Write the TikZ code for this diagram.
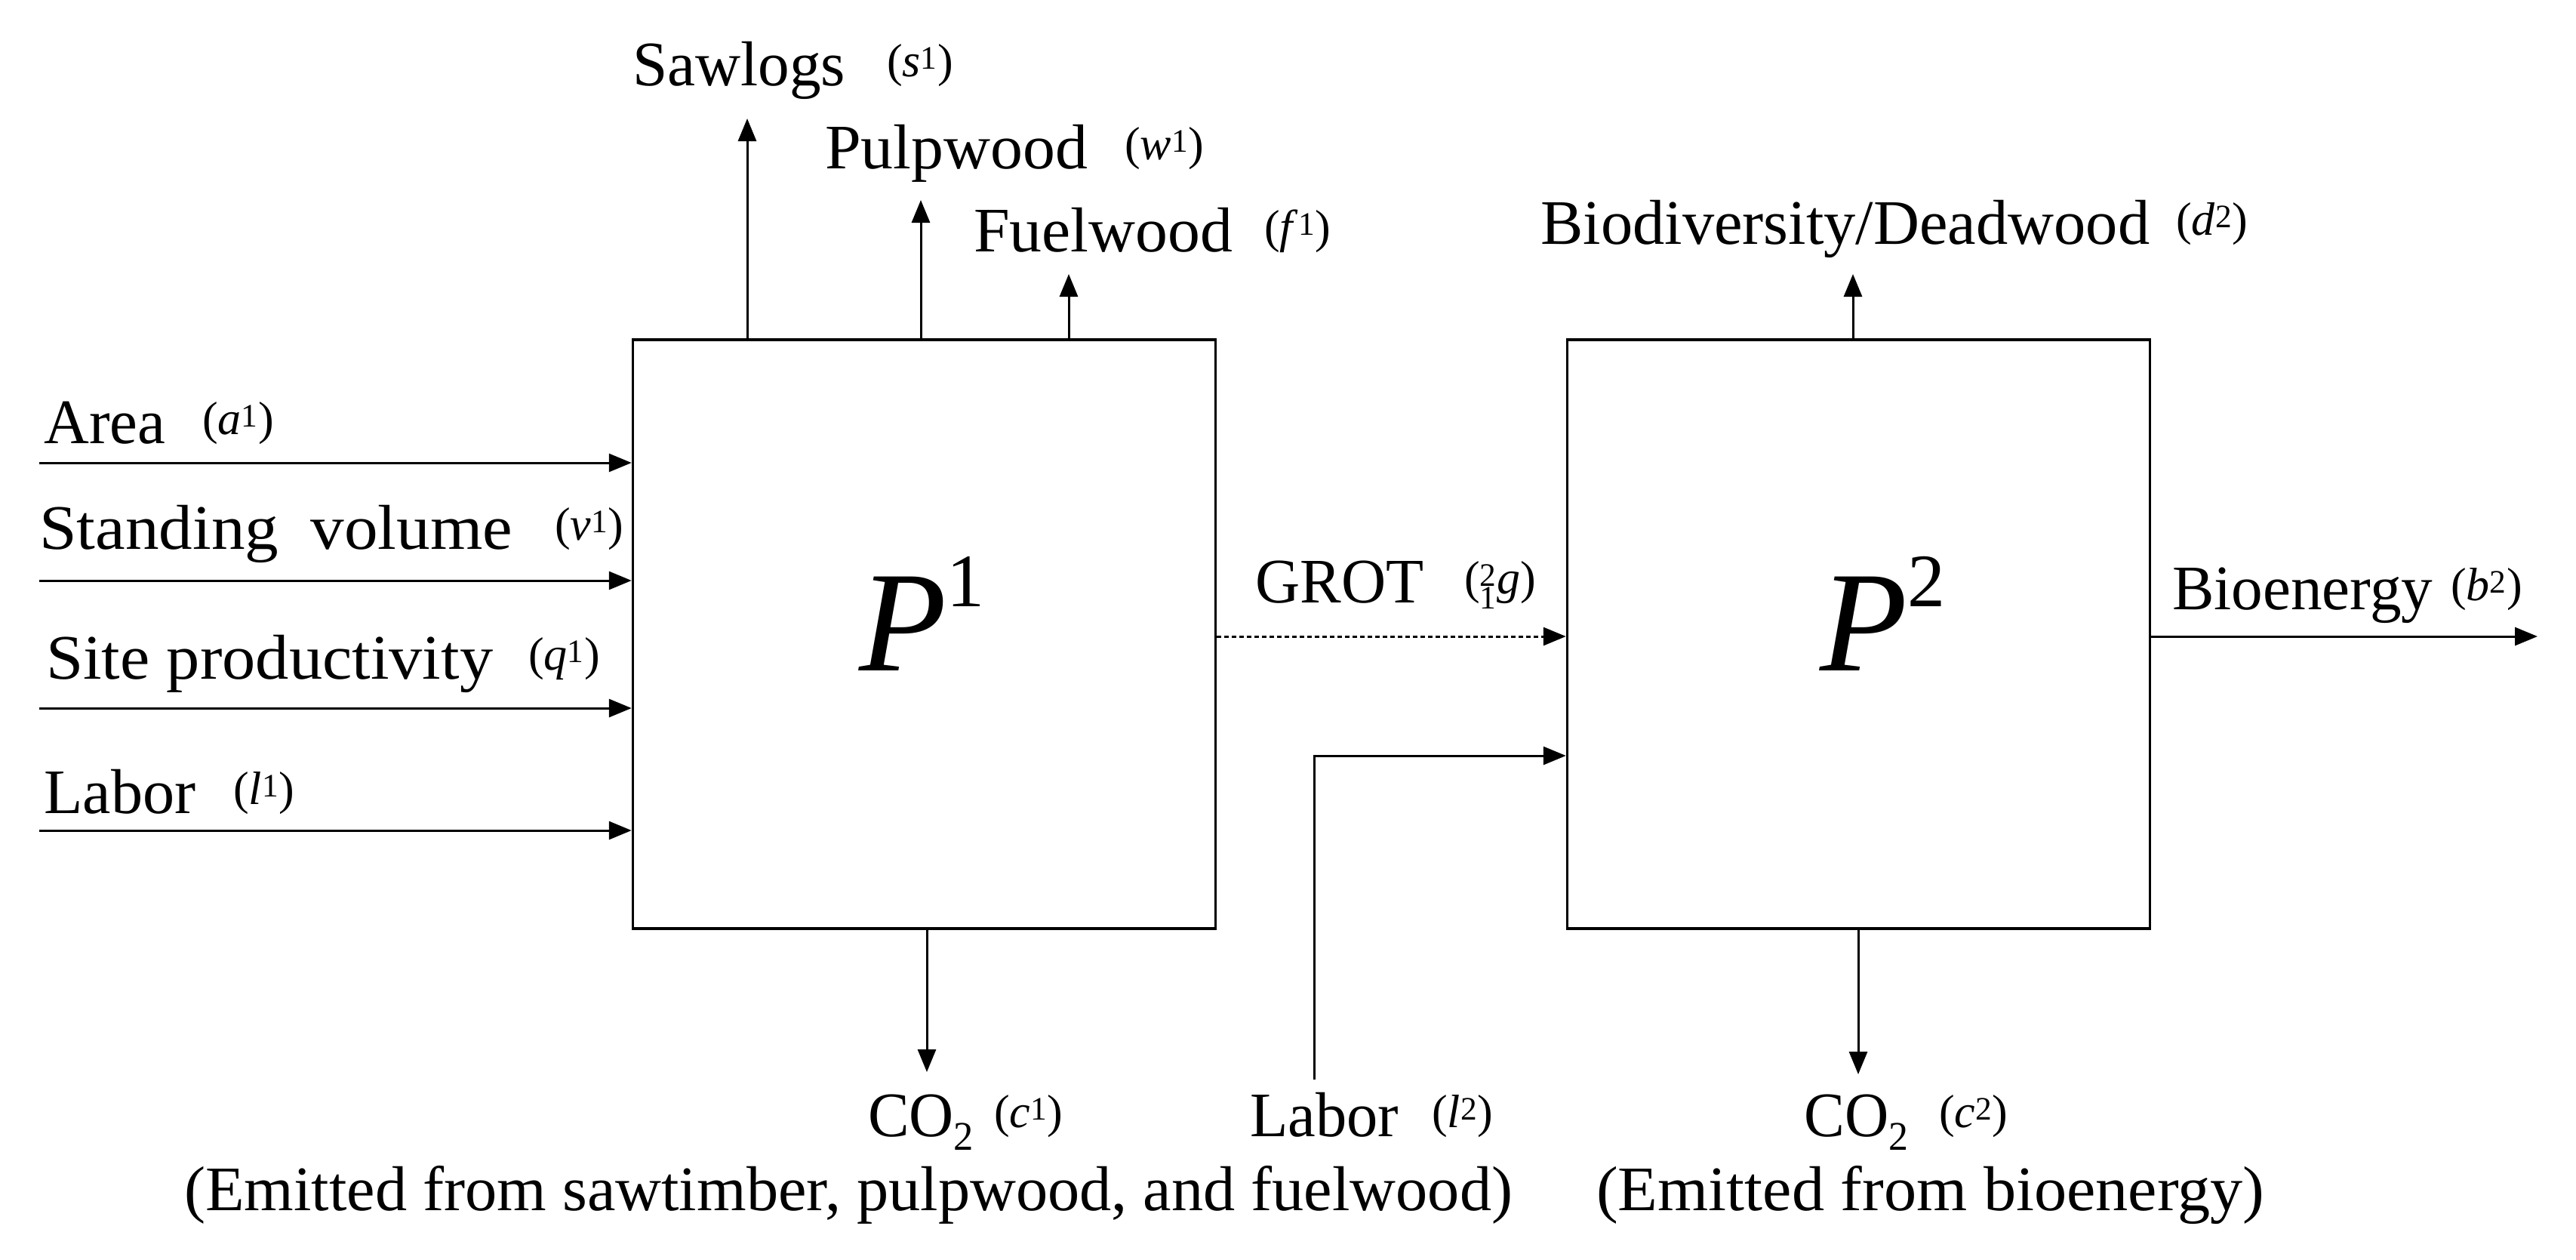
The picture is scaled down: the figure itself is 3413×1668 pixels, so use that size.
\documentclass[tikz,border=0pt]{standalone}
\usepackage{fontspec}
\usepackage{graphicx}
\setmainfont{Liberation Serif}
\usetikzlibrary{arrows.meta}
\newcommand\myvar[2]{{\fontsize{62}{70}\selectfont(\textit{#1}\textsuperscript{#2})}}
\newcommand\fitw[2]{\resizebox{#1pt}{\height}{#2}}
\newcommand\cotwo{CO\smash{\raisebox{-18pt}{\fontsize{54}{60}\selectfont 2}}}
\tikzset{
  lbl/.style={font=\fontsize{84}{100}\selectfont, inner sep=0pt, anchor=base west},
  varlbl/.style={inner sep=0pt, anchor=base west},
  biglbl/.style={inner sep=0pt, anchor=base west, font=\fontsize{190}{200}\selectfont},
  procbox/.style={draw, line width=3.5pt, minimum width=772pt, minimum height=780pt, inner sep=0pt},
  arr/.style={-{Triangle[length=30pt,width=24pt]}, line width=3pt},
  dasharr/.style={-{Triangle[length=30pt,width=24pt]}, line width=3pt, dash pattern=on 6pt off 4pt}
}
\begin{document}
\begin{tikzpicture}[x=1pt,y=-1pt]
\useasboundingbox (0,0) rectangle (3413,1668);
% boxes
\node[procbox] (P1) at (1224.5,840) {};
\node[procbox] (P2) at (2462.5,840) {};
\node[biglbl] (P1t) at (1138,888) {\textit{P}\raisebox{85pt}{\fontsize{100}{110}\selectfont 1}};
\node[biglbl] (P2t) at (2411,888) {\textit{P}\raisebox{85pt}{\fontsize{100}{110}\selectfont 2}};
% left inputs
\coordinate (ia) at (52,613);
\coordinate (iv) at (52,769);
\coordinate (iq) at (52,938);
\coordinate (il) at (52,1100);
\draw[arr] (ia) -- (ia -| P1.west);
\draw[arr] (iv) -- (iv -| P1.west);
\draw[arr] (iq) -- (iq -| P1.west);
\draw[arr] (il) -- (il -| P1.west);
\node[lbl] (tA) at (58,587) {\fitw{161}{Area}};
\node[varlbl] (vA) at (268,575) {\myvar{a}{1}};
\node[lbl] (tV) at (52,727) {\fitw{627}{Standing\hspace{40pt}volume}};
\node[varlbl] (vV) at (735,715) {\myvar{v}{1}};
\node[lbl] (tQ) at (61,899) {\fitw{592}{Site productivity}};
\node[varlbl] (vQ) at (700,887) {\myvar{q}{1}};
\node[lbl] (tL) at (58,1077) {\fitw{201}{Labor}};
\node[varlbl] (vL) at (309,1065) {\myvar{l}{1}};
% top outputs of P1
\coordinate (os) at (990,157);
\coordinate (ow) at (1220,265);
\coordinate (of) at (1416,363);
\draw[arr] (os |- P1.north) -- (os);
\draw[arr] (ow |- P1.north) -- (ow);
\draw[arr] (of |- P1.north) -- (of);
\node[lbl] (tS) at (838,113) {\fitw{282}{Sawlogs}};
\node[varlbl] (vS) at (1175,101) {\myvar{s}{1}};
\node[lbl] (tW) at (1093,223) {\fitw{348}{Pulpwood}};
\node[varlbl] (vW) at (1490,211) {\myvar{w}{1}};
\node[lbl] (tF) at (1290,333) {\fitw{343}{Fuelwood}};
\node[varlbl] (vF) at (1675,321) {\myvar{f}{1}};
% P2 top output
\coordinate (od) at (2455,363);
\draw[arr] (od |- P2.north) -- (od);
\node[lbl] (tD) at (2041,323) {\fitw{807}{Biodiversity/Deadwood}};
\node[varlbl] (vD) at (2883,311) {\myvar{d}{2}};
% GROT
\draw[dasharr] ([yshift=-3pt]P1.east) -- ([yshift=-3pt]P2.west);
\node[lbl] (tG) at (1663,798) {\fitw{223}{GROT}};
\node[varlbl] (vG) at (1940,786) {{\fontsize{62}{70}\selectfont(\makebox[0pt][l]{\textsuperscript{2}}\textsubscript{1}\textit{g})}};
% Bioenergy
\coordinate (ob) at (3362,843);
\draw[arr] (ob -| P2.east) -- (ob);
\node[lbl] (tB) at (2878,807) {\fitw{345}{Bioenergy}};
\node[varlbl] (vB) at (3247,795) {\myvar{b}{2}};
% CO2 outputs
\coordinate (oc1) at (1228,1420);
\coordinate (oc2) at (2462,1423);
\draw[arr] (oc1 |- P1.south) -- (oc1);
\draw[arr] (oc2 |- P2.south) -- (oc2);
\node[lbl] (tC1) at (1150,1505) {\fitw{140}{\cotwo}};
\node[varlbl] (vC1) at (1317,1493) {\myvar{c}{1}};
\node[lbl] (tC2) at (2390,1505) {\fitw{138}{\cotwo}};
\node[varlbl] (vC2) at (2569,1493) {\myvar{c}{2}};
\node[lbl] (tE1) at (244,1603) {\fitw{1760}{(Emitted from sawtimber, pulpwood, and fuelwood)}};
\node[lbl] (tE2) at (2115,1603) {\fitw{885}{(Emitted from bioenergy)}};
% Labor 2
\coordinate (l2) at (1741,1430);
\coordinate (l2y) at (0,1001);
\draw[arr] (l2) |- (P2.west |- l2y);
\node[lbl] (tL2) at (1656,1505) {\fitw{197}{Labor}};
\node[varlbl] (vL2) at (1897,1493) {\myvar{l}{2}};
\end{tikzpicture}
\end{document}
